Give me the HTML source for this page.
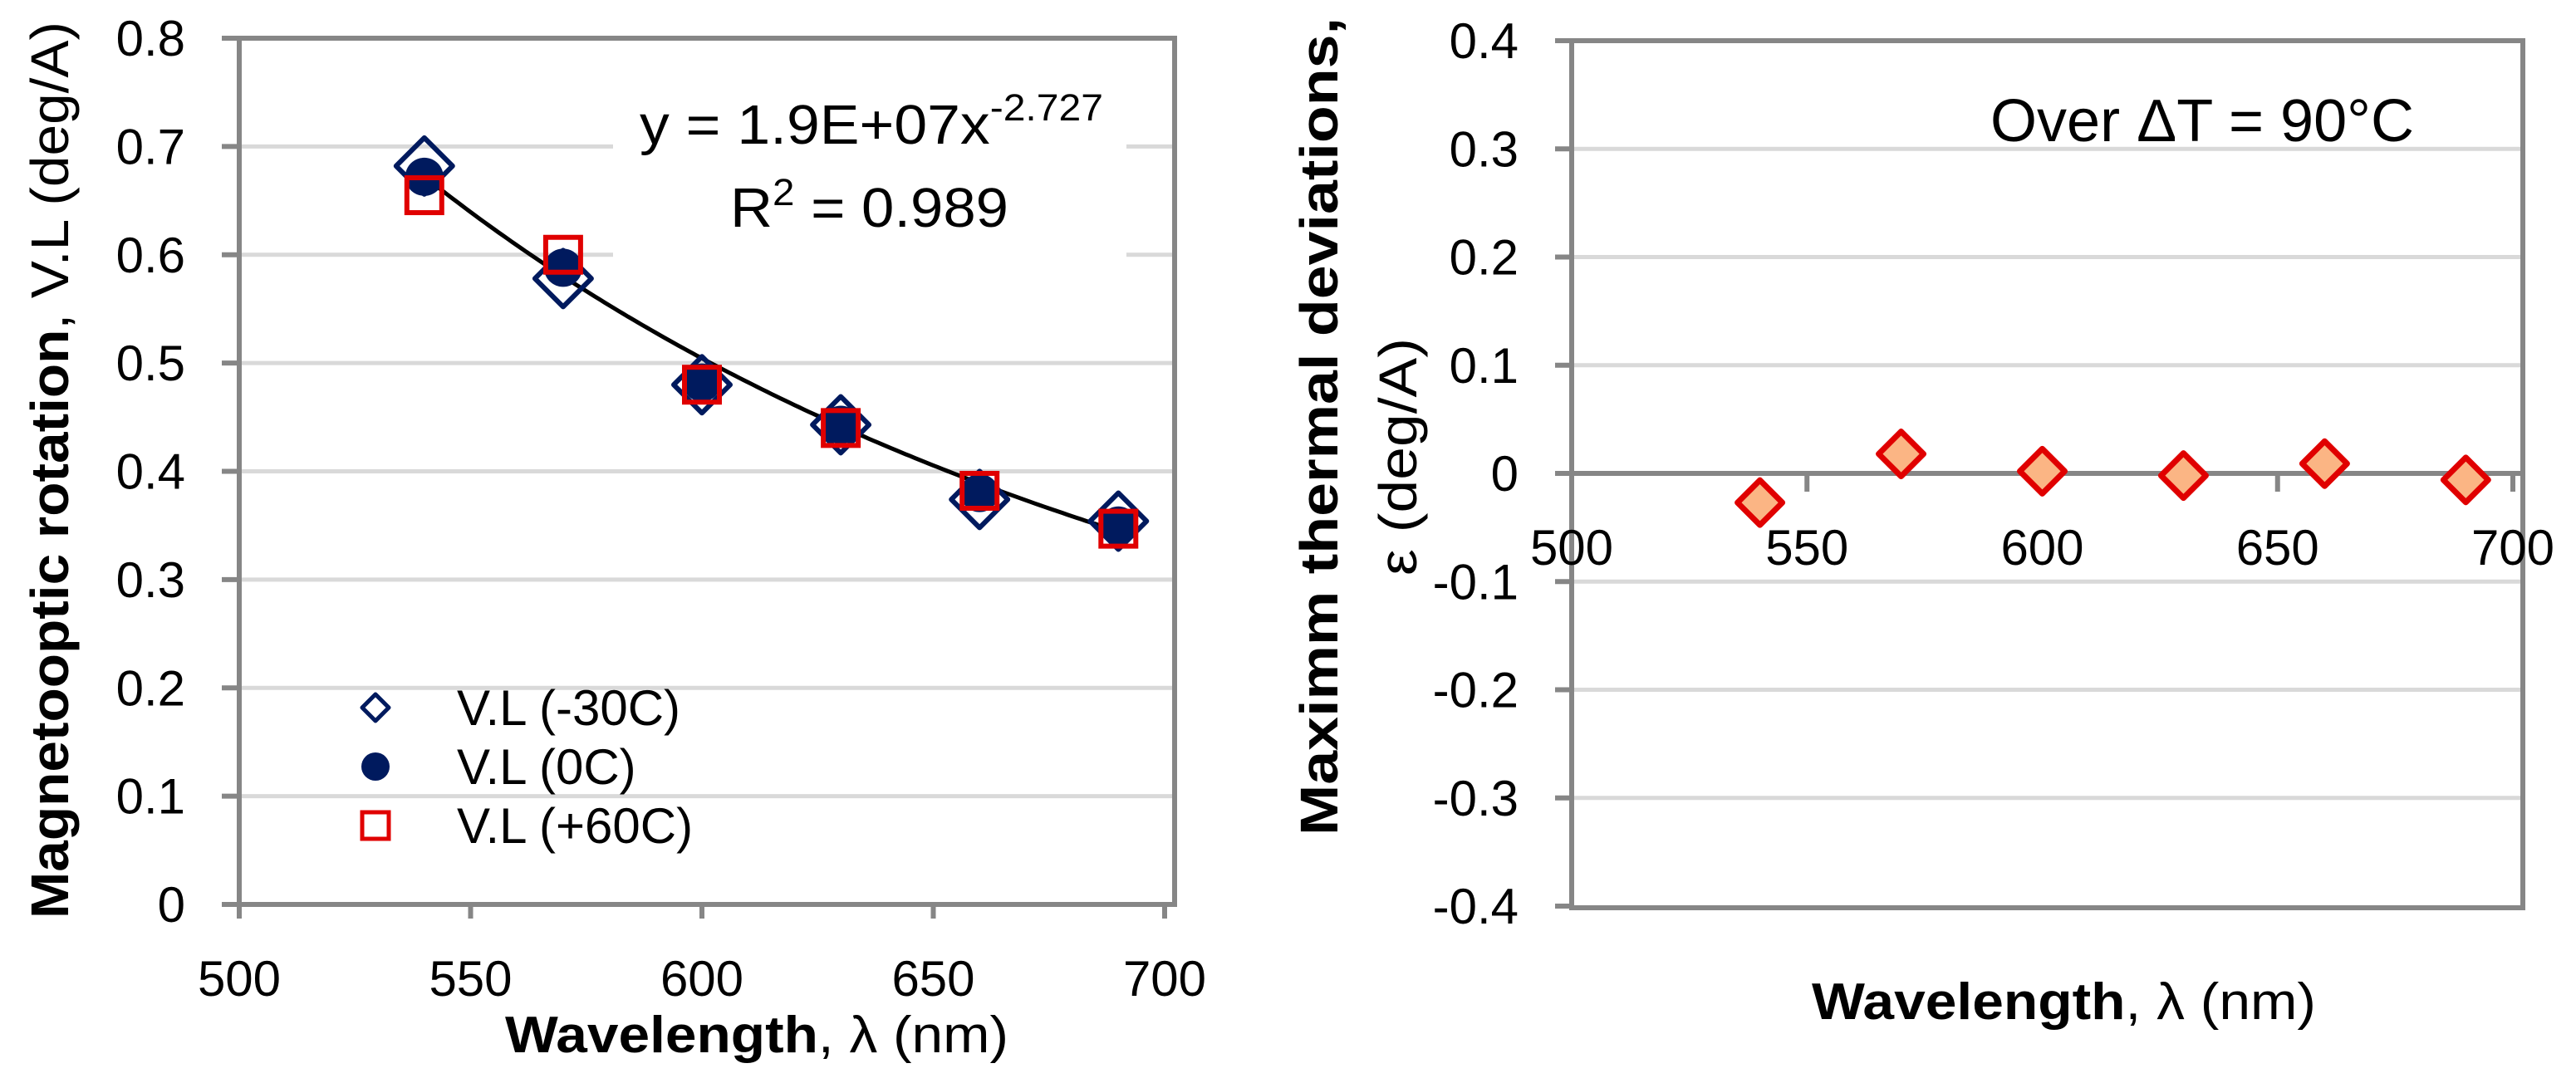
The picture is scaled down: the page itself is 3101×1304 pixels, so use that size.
<!DOCTYPE html>
<html><head><meta charset="utf-8"><style>
html,body{margin:0;padding:0;background:#fff;}
svg{display:block;font-family:"Liberation Sans",sans-serif;}
</style></head><body>
<svg id="chart" width="3101" height="1304" viewBox="0 0 3101 1304" xmlns="http://www.w3.org/2000/svg">
<rect width="3101" height="1304" fill="#fff"/>
<g id="left"></g>
<g id="right"></g>
</svg>
<script>
// ---- data ----
var wavelengths = [540, 570, 600, 630, 660, 690];
var vlMinus30 = [0.682, 0.578, 0.480, 0.443, 0.374, 0.354];
var vl0 = [0.672, 0.588, 0.482, 0.443, 0.380, 0.350];
var vlPlus60 = [0.655, 0.600, 0.480, 0.440, 0.382, 0.347];
var fitCoef = [1.9e7, -2.727];
var fitRange = [541, 690];
var deviations = [-0.027, 0.018, 0.002, -0.002, 0.009, -0.006];
var xTicks = [500, 550, 600, 650, 700];
var leftYTicks = ["0", "0.1", "0.2", "0.3", "0.4", "0.5", "0.6", "0.7", "0.8"];
var rightYTicks = ["-0.4", "-0.3", "-0.2", "-0.1", "0", "0.1", "0.2", "0.3", "0.4"];

var NS = "http://www.w3.org/2000/svg";
var TF = 60;
function mk(parent, tag, attrs, text) {
  var e = document.createElementNS(NS, tag);
  for (var k in attrs) e.setAttribute(k, attrs[k]);
  if (text !== undefined) e.textContent = text;
  parent.appendChild(e);
  return e;
}
var GRID = "#d9d9d9", AXIS = "#868686", NAVY = "#001a5e", RED = "#e00000";

// ---- left chart ----
var L = document.getElementById('left');
var lx = function (v) { return 288 + (v - 500) / 200 * (1402 - 288); };
var ly = function (v) { return 1089 - v / 0.8 * (1089 - 46); };
leftYTicks.forEach(function (t) {
  var v = parseFloat(t), y = ly(v);
  if (v > 0) {
    var g = mk(L, 'line', {x1: 288, x2: 1414, y1: y, y2: y, stroke: GRID, 'stroke-width': 5});
    
    
  }
  var tk = mk(L, 'line', {x1: 267, x2: 288, y1: y, y2: y, stroke: AXIS, 'stroke-width': 6});
  
  
  var lb = mk(L, 'text', {x: 223, y: y + 21, 'font-size': TF, 'text-anchor': 'end'}, t);
  
  
});
var box = mk(L, 'rect', {x: 738, y: 105, width: 618, height: 210, fill: '#fff'});


var fr = mk(L, 'rect', {x: 288, y: 46, width: 1402 - 288 + 12, height: 1043, fill: 'none', stroke: AXIS, 'stroke-width': 6});


xTicks.forEach(function (t) {
  var x = lx(t);
  var tk = mk(L, 'line', {x1: x, x2: x, y1: 1089, y2: 1106, stroke: AXIS, 'stroke-width': 6});
  
  
  var lb = mk(L, 'text', {x: x, y: 1199, 'font-size': TF, 'text-anchor': 'middle'}, String(t));
  
  
});
// fit curve
var d = '';
for (var w = fitRange[0]; w <= fitRange[1]; w += 1) {
  var v = fitCoef[0] * Math.pow(w, fitCoef[1]);
  d += (d ? 'L' : 'M') + lx(w).toFixed(1) + ',' + ly(v).toFixed(1);
}
var fit = mk(L, 'path', {d: d, fill: 'none', stroke: '#000', 'stroke-width': 5});


function diamond(p, cx, cy, r, fill, stroke, sw) {
  return mk(p, 'path', {d: 'M' + cx + ',' + (cy - r) + 'L' + (cx + r) + ',' + cy + 'L' + cx + ',' + (cy + r) + 'L' + (cx - r) + ',' + cy + 'Z', fill: fill, stroke: stroke, 'stroke-width': sw, 'stroke-linejoin': 'round'});
}
wavelengths.forEach(function (w, i) {
  var m = diamond(L, lx(w), ly(vlMinus30[i]), 34, 'none', NAVY, 6);
  
  
});
wavelengths.forEach(function (w, i) {
  var m = mk(L, 'circle', {cx: lx(w), cy: ly(vl0[i]), r: 23, fill: NAVY});
  
  
});
wavelengths.forEach(function (w, i) {
  var m = mk(L, 'rect', {x: lx(w) - 21, y: ly(vlPlus60[i]) - 21, width: 42, height: 42, fill: 'none', stroke: RED, 'stroke-width': 6});
  
  
});
var eq = mk(L, 'text', {x: 770, y: 173, 'font-size': 67, textLength: 558, lengthAdjust: 'spacingAndGlyphs'});


eq.innerHTML = 'y = 1.9E+07x<tspan dy="-28" font-size="45">-2.727</tspan>';
var r2 = mk(L, 'text', {x: 879, y: 273, 'font-size': 67, textLength: 335, lengthAdjust: 'spacingAndGlyphs'});


r2.innerHTML = 'R<tspan dy="-26" font-size="45">2</tspan><tspan dy="26"> = 0.989</tspan>';
// legend
var lgY = [852, 923, 994];
var lgLabels = ['V.L (-30C)', 'V.L (0C)', 'V.L (+60C)'];
var m1 = diamond(L, 452, lgY[0], 16, 'none', NAVY, 5);


var m2 = mk(L, 'circle', {cx: 452, cy: lgY[1], r: 17, fill: NAVY});


var m3 = mk(L, 'rect', {x: 436, y: lgY[2] - 16, width: 32, height: 32, fill: 'none', stroke: RED, 'stroke-width': 5});


lgLabels.forEach(function (t, i) {
  var e = mk(L, 'text', {x: 550, y: lgY[i] + 21, 'font-size': TF}, t);
  
  
});
var lxt = mk(L, 'text', {x: 608, y: 1267, 'font-size': 62, textLength: 606, lengthAdjust: 'spacingAndGlyphs'});


lxt.innerHTML = '<tspan font-weight="bold">Wavelength</tspan>, λ (nm)';
var lyt = mk(L, 'text', {x: 0, y: 0, 'font-size': 64, transform: 'translate(82,1106) rotate(-90)', textLength: 1080, lengthAdjust: 'spacingAndGlyphs'});


lyt.innerHTML = '<tspan font-weight="bold">Magnetooptic rotation</tspan>, V.L (deg/A)';

// ---- right chart ----
var R = document.getElementById('right');
var rx = function (v) { return 1892 + (v - 500) / 200 * (3025 - 1892); };
var ry = function (v) { return 570 - v / 0.4 * (570 - 49); };
rightYTicks.forEach(function (t) {
  var v = parseFloat(t), y = ry(v);
  if (v > -0.4 && v !== 0) {
    var g = mk(R, 'line', {x1: 1892, x2: 3037, y1: y, y2: y, stroke: GRID, 'stroke-width': 5});
    
    
  }
  var tk = mk(R, 'line', {x1: 1872, x2: 1892, y1: y, y2: y, stroke: AXIS, 'stroke-width': 6});
  
  
  var lb = mk(R, 'text', {x: 1828, y: y + 21, 'font-size': TF, 'text-anchor': 'end'}, t);
  
  
});
var rfr = mk(R, 'rect', {x: 1892, y: 49, width: 3025 - 1892 + 12, height: 1093 - 49, fill: 'none', stroke: AXIS, 'stroke-width': 6});


var zl = mk(R, 'line', {x1: 1892, x2: 3037, y1: ry(0), y2: ry(0), stroke: AXIS, 'stroke-width': 6});


xTicks.forEach(function (t) {
  var x = rx(t);
  var tk = mk(R, 'line', {x1: x, x2: x, y1: ry(0), y2: ry(0) + 22, stroke: AXIS, 'stroke-width': 6});
  
  
  var lb = mk(R, 'text', {x: x, y: 680, 'font-size': TF, 'text-anchor': 'middle'}, String(t));
  
  
});
wavelengths.forEach(function (w, i) {
  var m = diamond(R, rx(w), ry(deviations[i]), 27, '#fbb584', RED, 7);
  
  
});
var ov = mk(R, 'text', {x: 2396, y: 170, 'font-size': 72, textLength: 510, lengthAdjust: 'spacingAndGlyphs'}, 'Over ΔT = 90°C');


var rxt = mk(R, 'text', {x: 2181, y: 1227, 'font-size': 62, textLength: 607, lengthAdjust: 'spacingAndGlyphs'});


rxt.innerHTML = '<tspan font-weight="bold">Wavelength</tspan>, λ (nm)';
var ryt1 = mk(R, 'text', {x: 0, y: 0, 'font-size': 64, 'font-weight': 'bold', transform: 'translate(1610,1006) rotate(-90)', textLength: 985, lengthAdjust: 'spacingAndGlyphs'}, 'Maximm thermal deviations,');


var ryt2 = mk(R, 'text', {x: 0, y: 0, 'font-size': 64, transform: 'translate(1705,693) rotate(-90)', textLength: 286, lengthAdjust: 'spacingAndGlyphs'}, 'ε (deg/A)');


</script>
</body></html>
